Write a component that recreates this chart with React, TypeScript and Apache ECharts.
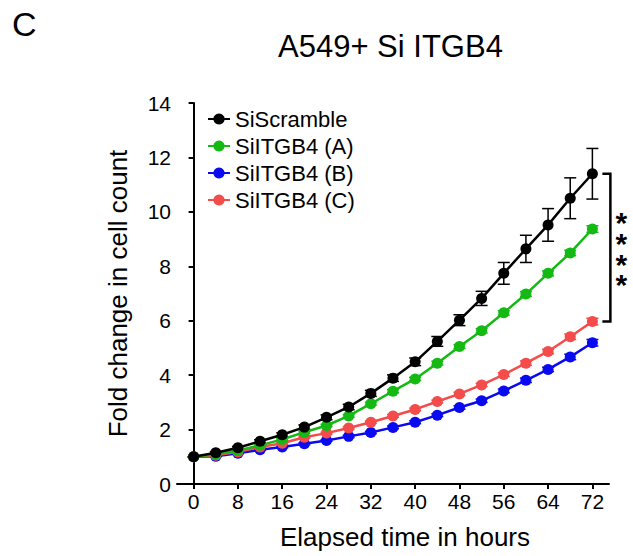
import React, { useEffect, useRef } from "react";
import * as echarts from "echarts";

const FONT = "'Liberation Sans', Arial, Helvetica, sans-serif";

const hours = [0, 4, 8, 12, 16, 20, 24, 28, 32, 36, 40, 44, 48, 52, 56, 60, 64, 68, 72];
const xTicks = [0, 8, 16, 24, 32, 40, 48, 56, 64, 72];

const seriesNames = ["SiScramble", "SiITGB4 (A)", "SiITGB4 (B)", "SiITGB4 (C)"];
const seriesColors = ["#000000", "#14B914", "#0A0AF0", "#F44B4B"];

const scramble = [1.0, 1.15, 1.33, 1.57, 1.81, 2.09, 2.45, 2.83, 3.33, 3.89, 4.49, 5.24, 6.02, 6.82, 7.74, 8.64, 9.52, 10.5, 11.4];
const scrambleErr = [0, 0.04, 0.05, 0.06, 0.07, 0.08, 0.09, 0.1, 0.11, 0.12, 0.14, 0.18, 0.2, 0.26, 0.4, 0.5, 0.6, 0.75, 0.93];

const itgbA = [1.0, 1.09, 1.23, 1.42, 1.64, 1.9, 2.15, 2.5, 2.95, 3.41, 3.86, 4.44, 5.05, 5.63, 6.29, 6.98, 7.74, 8.49, 9.37];
const itgbAErr = [0, 0.02, 0.02, 0.03, 0.03, 0.04, 0.04, 0.05, 0.05, 0.06, 0.06, 0.07, 0.07, 0.08, 0.08, 0.09, 0.09, 0.1, 0.12];

const itgbB = [1.0, 1.02, 1.13, 1.26, 1.36, 1.48, 1.6, 1.75, 1.89, 2.08, 2.27, 2.53, 2.81, 3.06, 3.42, 3.81, 4.21, 4.67, 5.19];
const itgbBErr = [0, 0.02, 0.02, 0.02, 0.03, 0.03, 0.03, 0.04, 0.04, 0.05, 0.05, 0.05, 0.06, 0.06, 0.07, 0.08, 0.08, 0.1, 0.12];

const itgbC = [1.0, 1.06, 1.18, 1.36, 1.5, 1.72, 1.87, 2.06, 2.27, 2.5, 2.74, 3.03, 3.31, 3.64, 4.02, 4.44, 4.87, 5.41, 5.97];
const itgbCErr = [0, 0.02, 0.02, 0.02, 0.03, 0.03, 0.03, 0.04, 0.04, 0.05, 0.05, 0.05, 0.06, 0.06, 0.07, 0.08, 0.08, 0.1, 0.12];

const allValues = [scramble, itgbA, itgbB, itgbC];
const allErrors = [scrambleErr, itgbAErr, itgbBErr, itgbCErr];
const lineZ = [6, 5, 3, 4];

export default function App() {
  const ref = useRef<HTMLDivElement>(null);

  useEffect(() => {
    document.body.style.margin = "0";
    if (!ref.current) return;
    const chart = echarts.init(ref.current, undefined, { renderer: "svg" });

    const lineSeries = seriesNames.map((name, k) => ({
      name,
      type: "line",
      data: hours.map((h, i) => [h, allValues[k][i]]),
      symbol: "circle",
      symbolSize: 11,
      color: seriesColors[k],
      lineStyle: { color: seriesColors[k], width: 2.5 },
      itemStyle: { color: seriesColors[k] },
      z: lineZ[k],
    }));

    const errSeries = seriesNames.map((name, k) => ({
      name: name + " err",
      type: "custom",
      z: 2,
      clip: false,
      data: hours.map((h, i) => [h, allValues[k][i] - allErrors[k][i], allValues[k][i] + allErrors[k][i]]),
      encode: { x: 0, y: [1, 2] },
      renderItem: (params: any, api: any) => {
        const x = api.value(0);
        const lo = api.coord([x, api.value(1)]);
        const hi = api.coord([x, api.value(2)]);
        const w = 6;
        const st = { stroke: seriesColors[k], lineWidth: 1.5 };
        return {
          type: "group",
          children: [
            { type: "line", shape: { x1: hi[0], y1: hi[1], x2: lo[0], y2: lo[1] }, style: st },
            { type: "line", shape: { x1: hi[0] - w, y1: hi[1], x2: hi[0] + w, y2: hi[1] }, style: st },
            { type: "line", shape: { x1: lo[0] - w, y1: lo[1], x2: lo[0] + w, y2: lo[1] }, style: st },
          ],
        };
      },
    }));

    const last = hours.length - 1;
    const bracketSeries = {
      name: "significance",
      type: "custom",
      z: 7,
      clip: false,
      data: [[hours[last], scramble[last], itgbC[last]]],
      encode: { x: 0, y: [1, 2] },
      renderItem: (params: any, api: any) => {
        const x = api.value(0);
        const top = api.coord([x, api.value(1)]);
        const bot = api.coord([x, api.value(2)]);
        const xa = top[0] + 10;
        const xb = top[0] + 18;
        const mid = (top[1] + bot[1]) / 2;
        return {
          type: "group",
          children: [
            {
              type: "polyline",
              shape: { points: [[xa, top[1]], [xb, top[1]], [xb, bot[1]], [xa, bot[1]]] },
              style: { stroke: "#000", lineWidth: 2.5, fill: null },
            },
            {
              type: "text",
              x: top[0] + 29,
              y: mid + 6,
              style: {
                text: "*\n*\n*\n*",
                fontSize: 30,
                lineHeight: 20.7,
                fontWeight: "bold",
                fontFamily: FONT,
                fill: "#000",
                align: "center",
                verticalAlign: "middle",
              },
            },
          ],
        };
      },
    };

    const option: any = {
      animation: false,
      backgroundColor: "#ffffff",
      title: [
        { text: "C", left: 12, top: 7, padding: 0, textStyle: { fontSize: 34, fontWeight: "normal", color: "#000", fontFamily: FONT } },
        { text: "A549+ Si ITGB4", left: 278, top: 31, padding: 0, textStyle: { fontSize: 31, fontWeight: "normal", color: "#000", fontFamily: FONT } },
      ],
      legend: {
        data: seriesNames,
        orient: "vertical",
        left: 207,
        top: 108,
        padding: 0,
        itemWidth: 22,
        itemHeight: 14,
        itemGap: 5,
        selectedMode: false,
        textStyle: { fontSize: 22, color: "#000", fontFamily: FONT },
      },
      grid: { left: 177, right: 24, top: 103, bottom: 72 },
      xAxis: {
        type: "value",
        min: -3,
        max: 75,
        name: "Elapsed time in hours",
        nameLocation: "middle",
        nameGap: 40,
        nameTextStyle: { fontSize: 26, color: "#000", fontFamily: FONT, padding: [0, 0, 0, 24] },
        axisLine: { show: true, lineStyle: { color: "#000", width: 2 } },
        axisTick: { show: true, length: 5, lineStyle: { color: "#000", width: 2 }, customValues: xTicks },
        axisLabel: { fontSize: 21, color: "#000", fontFamily: FONT, margin: 7, customValues: xTicks },
        splitLine: { show: false },
      },
      yAxis: {
        type: "value",
        min: 0,
        max: 14,
        interval: 2,
        name: "Fold change in cell count",
        nameLocation: "middle",
        nameGap: 46,
        nameTextStyle: { fontSize: 26, color: "#000", fontFamily: FONT },
        axisLine: { show: true, lineStyle: { color: "#000", width: 2 } },
        axisTick: { show: true, length: 5, lineStyle: { color: "#000", width: 2 } },
        axisLabel: { fontSize: 21, color: "#000", fontFamily: FONT, margin: 6 },
        splitLine: { show: false },
      },
      series: [...errSeries, ...lineSeries, bracketSeries],
    };

    chart.setOption(option);
    return () => chart.dispose();
  }, []);

  return <div ref={ref} style={{ width: 633, height: 556 }} />;
}
